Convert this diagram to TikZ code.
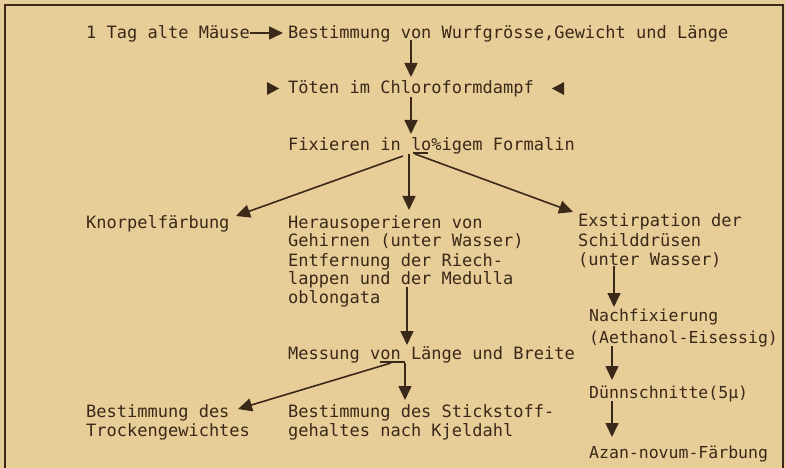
\documentclass[tikz,border=0pt]{standalone}
\usepackage{fontspec}
\setmonofont{DejaVu Sans Mono}
\usetikzlibrary{arrows.meta}
\definecolor{paper}{RGB}{231,206,153}
\definecolor{ink}{RGB}{58,40,24}
\tikzset{
  txt/.style={anchor=base west, inner sep=0pt, text=ink, font=\ttfamily\fontsize{17}{19}\selectfont},
  txtr/.style={txt, font=\ttfamily\fontsize{16.5}{19}\selectfont},
  arr/.style={draw=ink, line width=1.6pt, -{Triangle[length=14pt,width=13pt]}},
  ln/.style={draw=ink, line width=1.2pt},
}
\begin{document}
\begin{tikzpicture}[x=1pt,y=-1pt]
\fill[paper] (0,0) rectangle (785,468);
\useasboundingbox (0,0) rectangle (785,468);
% frame
\draw[ink, line width=1.5pt] (5,468) -- (5,5) -- (783,5) -- (783,468);

% texts
\node[txt] (maeuse) at (86,39) {1 Tag alte Mäuse};
\node[txt] (best) at (288,39) {Bestimmung von Wurfgrösse,Gewicht und Länge};
\node[txt] (toeten) at (288,94) {Töten im Chloroformdampf};
\node[txt] (fix) at (288,151) {Fixieren in lo\%igem Formalin};
\node[txt] (knorpel) at (86,228) {Knorpelfärbung};
\node[txt] (h1) at (288,228) {Herausoperieren von};
\node[txt] (h2) at (288,247) {Gehirnen (unter Wasser)};
\node[txt] (h3) at (288,266) {Entfernung der Riech-};
\node[txt] (h4) at (288,284) {lappen und der Medulla};
\node[txt] (h5) at (288,303) {oblongata};
\node[txt] (e1) at (578,226) {Exstirpation der};
\node[txt] (e2) at (578,246) {Schilddrüsen};
\node[txt] (e3) at (578,265) {(unter Wasser)};
\node[txtr] (n1) at (589,321) {Nachfixierung};
\node[txtr] (n2) at (589,343) {(Aethanol-Eisessig)};
\node[txtr] (duenn) at (589,398) {Dünnschnitte(5μ)};
\node[txtr] (azan) at (589,458) {Azan-novum-Färbung};
\node[txt] (mess) at (288,359) {Messung von Länge und Breite};
\node[txt] (t1) at (86,417) {Bestimmung des};
\node[txt] (t2) at (86,436) {Trockengewichtes};
\node[txt] (s1) at (288,417) {Bestimmung des Stickstoff-};
\node[txt] (s2) at (288,436) {gehaltes nach Kjeldahl};

% triangles beside Töten
\fill[ink] (267,82) -- (267,95) -- (279,88.5) -- cycle;
\fill[ink] (564,82) -- (564,95) -- (552,88.5) -- cycle;

% coordinates for connector ends
\coordinate (a1s) at (250,33);
\coordinate (a1e) at (283,33);
\coordinate (a2s) at (411,40);
\coordinate (a2e) at (411,77);
\coordinate (a3s) at (411,97);
\coordinate (a3e) at (411,134);
\coordinate (fL) at (403,156);
\coordinate (fM) at (409,154);
\coordinate (fR) at (415,154);
\coordinate (kE) at (236,216);
\coordinate (hE) at (409,210);
\coordinate (eE) at (573,212);
\coordinate (oS) at (407,287);
\coordinate (oE) at (407,345);
\coordinate (mL) at (391,363);
\coordinate (mM) at (405,363);
\coordinate (tE) at (238,409);
\coordinate (sE) at (405,400);
\coordinate (xS) at (614,266);
\coordinate (xE) at (614,307);
\coordinate (nS) at (612,346);
\coordinate (nE) at (612,380);
\coordinate (dS) at (612,401);
\coordinate (dE) at (612,437);

% connectors
\draw[arr] (a1s) -- (a1e);
\draw[arr] (a2s) -- (a2e);
\draw[arr] (a3s) -- (a3e);
\draw[ln] (413,153) -- (428,153);
\draw[arr] (fL) -- (kE);
\draw[arr] (fM) -- (hE);
\draw[arr] (fR) -- (eE);
\draw[arr] (oS) -- (oE);
\draw[ln] (380,362) -- (405,362);
\draw[arr] (mL) -- (tE);
\draw[arr] (mM) -- (sE);
\draw[arr] (xS) -- (xE);
\draw[arr] (nS) -- (nE);
\draw[arr] (dS) -- (dE);
\end{tikzpicture}
\end{document}
